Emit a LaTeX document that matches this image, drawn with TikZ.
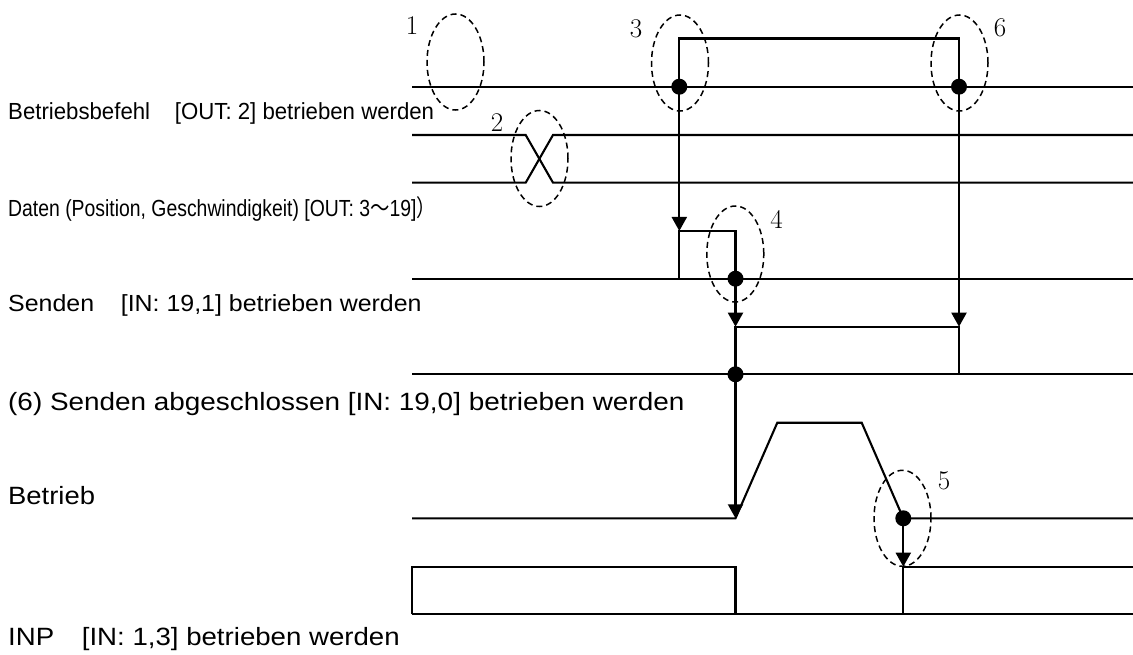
\documentclass[tikz,border=0pt]{standalone}
\usepackage{fontspec}
\usepackage{graphicx}
\usetikzlibrary{arrows.meta,shapes.geometric}
\newfontfamily\sans{Liberation Sans}
\newfontfamily\cjk{Noto Sans CJK JP}

\begin{document}
\begin{tikzpicture}[x=1pt,y=-1pt,
  sig/.style={line width=2.1pt, line join=miter},
  evt/.style={line width=2.1pt, -{Triangle[width=15pt,length=14pt]}},
  dotmark/.style={circle, fill=black, inner sep=0pt, minimum size=16pt},
  zone/.style={ellipse, draw, line width=1.5pt, dash pattern=on 6pt off 4pt,
               inner sep=0pt, minimum width=57pt, minimum height=96pt},
  num/.style={inner sep=0pt, font=\fontsize{27}{30}\selectfont},
  lbl/.style={anchor=base west, inner sep=0pt, font=\sans\fontsize{23.3}{28}\selectfont},
  lblb/.style={anchor=base west, inner sep=0pt, font=\sans\fontsize{25}{30}\selectfont}]

\useasboundingbox (0,0) rectangle (1133,655);

% ---- signal labels
\node[lbl] (l1) at (8,120) {\scalebox{0.953}[1]{Betriebsbefehl\hspace{26pt}[OUT: 2] betrieben werden}};
\node[lbl] (l2) at (8,216.7) {\scalebox{0.832}[1]{Daten (Position, Geschwindigkeit) [OUT: 3{\cjk ～}19]{\cjk ）}}};
\node[lbl] (l3) at (8,311.7) {\scalebox{1.07}[1]{Senden\hspace{25pt}[IN: 19,1] betrieben werden}};
\node[lblb] (l4) at (8,410) {\scalebox{1.116}[1]{(6) Senden abgeschlossen [IN: 19,0] betrieben werden}};
\node[lblb] (l5) at (8,504) {\scalebox{1.096}[1]{Betrieb}};
\node[lblb] (l6) at (8,645) {\scalebox{1.105}[1]{INP\hspace{25pt}[IN: 1,3] betrieben werden}};

% ---- waveforms
% operation command
\draw[sig] (412,86.7) -- (1133,86.7);
\draw[sig] (679.3,86.7) -- (679.3,38.5) -- (959,38.5) -- (959,86.7);
% data bus
\draw[sig] (412,135) -- (525.7,135) -- (553,182.7) -- (1133,182.7);
\draw[sig] (412,182.7) -- (525.7,182.7) -- (553,135) -- (1133,135);
% send
\draw[sig] (412,278.7) -- (1133,278.7);
\draw[sig] (679.3,278.7) -- (679.3,231) -- (735.5,231) -- (735.5,278.7);
% send complete
\draw[sig] (412,374.3) -- (1133,374.3);
\draw[sig] (735.5,374.3) -- (735.5,326.7) -- (959,326.7) -- (959,374.3);
% motion profile
\draw[sig] (412,518.3) -- (735.5,518.3) -- (777.3,422.7) -- (861.7,422.7)
           -- (903.3,518.3) -- (1133,518.3);
% in position
\draw[sig] (412,614.3) -- (1133,614.3);
\draw[sig] (412,614.3) -- (412,566.7) -- (735.5,566.7) -- (735.5,614.3);
\draw[sig] (903.3,614.3) -- (903.3,566.7) -- (1133,566.7);

% ---- event points
\node[dotmark] (p3) at (679.3,86.7) {};
\node[dotmark] (p6) at (959,86.7) {};
\node[dotmark] (p4) at (735.5,278.7) {};
\node[dotmark] (p4b) at (735.5,374.3) {};
\node[dotmark] (p5) at (903.3,518.3) {};

\coordinate (t3) at (679.3,231);
\coordinate (t6) at (959,326.7);
\coordinate (t4) at (735.5,326.7);
\coordinate (t4b) at (735.5,518.3);
\coordinate (t5) at (903.3,566.7);

\draw[evt] (p3.center) -- (t3);
\draw[evt] (p6.center) -- (t6);
\draw[evt] (p4.center) -- (t4);
\draw[evt] (p4b.center) -- (t4b);
\draw[evt] (p5.center) -- (t5);

% ---- marked zones and their numbers
\node[zone] (e1) at (455.5,62) {};
\node[zone] (e2) at (539.5,158.5) {};
\node[zone] (e3) at (680,63) {};
\node[zone] (e4) at (735.3,254) {};
\node[zone] (e5) at (902.5,518.3) {};
\node[zone] (e6) at (959.5,63) {};

\node[num] (n1) at (412,26) {1};
\node[num] (n2) at (497,123) {2};
\node[num] (n3) at (636,29) {3};
\node[num] (n4) at (776.5,219) {4};
\node[num] (n5) at (944,481) {5};
\node[num] (n6) at (1000,28) {6};

\end{tikzpicture}
\end{document}
